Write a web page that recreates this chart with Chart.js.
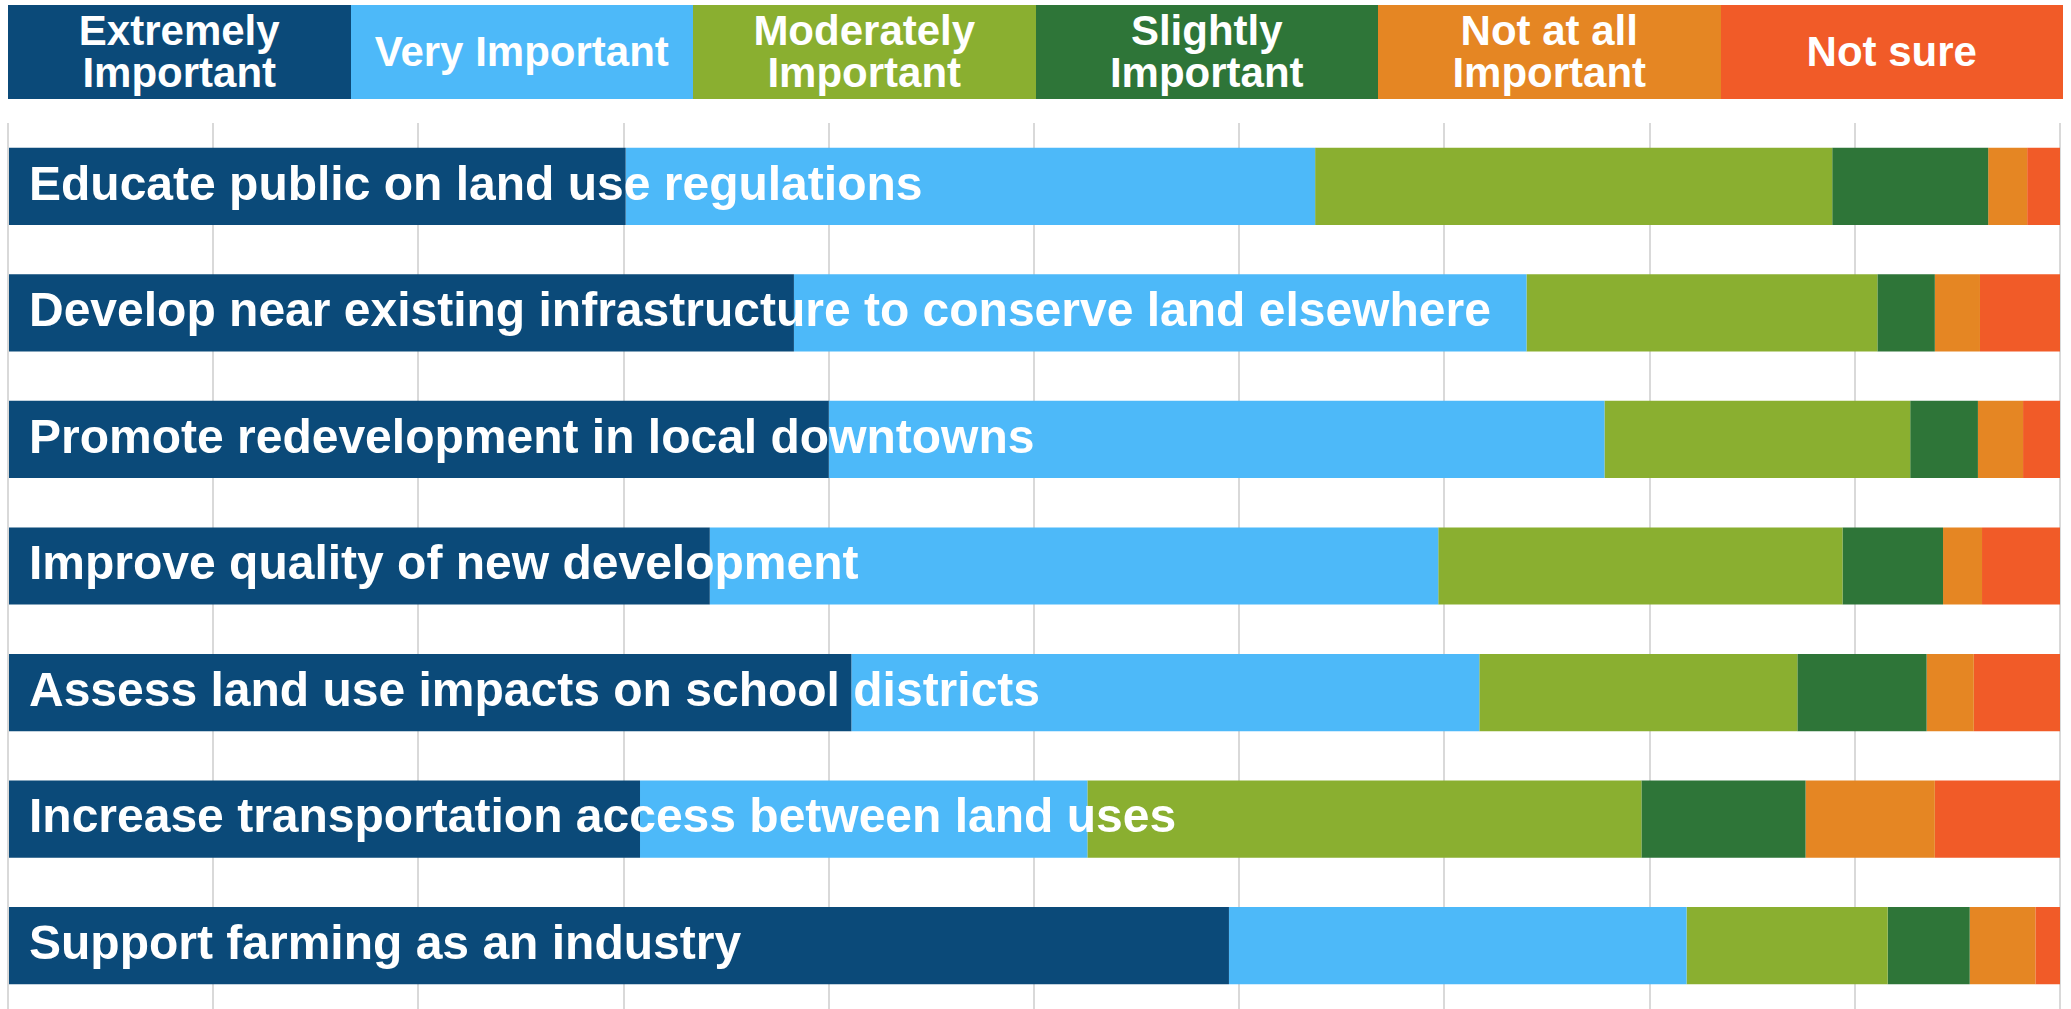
<!DOCTYPE html>
<html>
<head>
<meta charset="utf-8">
<title>Land use priorities</title>
<script src="https://cdn.jsdelivr.net/npm/chart.js@4"></script>
<style>
  html, body { margin: 0; padding: 0; background: #fff; }
  #wrap { position: relative; width: 2071px; height: 1009px; overflow: hidden; }
  #legend {
    position: absolute; left: 8px; top: 5px; width: 2055px; height: 94px;
    display: flex;
  }
  .leg-item {
    flex: 1 1 0; display: flex; align-items: center; justify-content: center;
    color: #fff; font-family: "Liberation Sans", Arial, sans-serif; font-weight: bold;
    font-size: 42px; line-height: 42px; text-align: center;
  }
  #chart { position: absolute; left: 0; top: 0; }
</style>
</head>
<body>
<div id="wrap">
  <canvas id="chart" width="2071" height="1009"></canvas>
  <div id="legend"></div>
</div>
<script>
// ─── Data ───────────────────────────────────────────────────────────────────

const categories = [
  'Educate public on land use regulations',
  'Develop near existing infrastructure to conserve land elsewhere',
  'Promote redevelopment in local downtowns',
  'Improve quality of new development',
  'Assess land use impacts on school districts',
  'Increase transportation access between land uses',
  'Support farming as an industry',
];

const seriesNames = [
  'Extremely Important',
  'Very Important',
  'Moderately Important',
  'Slightly Important',
  'Not at all Important',
  'Not sure',
];

// legend text split into lines as shown in the header boxes
const legendLines = [
  ['Extremely', 'Important'],
  ['Very Important'],
  ['Moderately', 'Important'],
  ['Slightly', 'Important'],
  ['Not at all', 'Important'],
  ['Not sure'],
];

const extremely  = [30.1, 38.3, 40.0, 34.2, 41.1, 30.8, 59.5];
const very       = [33.6, 35.7, 37.8, 35.5, 30.6, 21.8, 22.3];
const moderately = [25.2, 17.1, 14.9, 19.7, 15.5, 27.0,  9.8];
const slightly   = [ 7.6,  2.8,  3.3,  4.9,  6.3,  8.0,  4.0];
const notAtAll   = [ 1.9,  2.2,  2.2,  1.9,  2.3,  6.3,  3.2];
const notSure    = [ 1.6,  3.9,  1.8,  3.8,  4.2,  6.1,  1.2];

const seriesColors = ['#0b4a79', '#4db9f9', '#8aaf30', '#2e7538', '#e58623', '#f15b28'];

// ─── Legend (header boxes) ──────────────────────────────────────────────────

function renderLegend() {
  const el = document.getElementById('legend');
  el.innerHTML = seriesNames.map((name, i) => `
    <div class="leg-item" style="background:${seriesColors[i]};" title="${name}">
      <div>${legendLines[i].join('<br>')}</div>
    </div>`).join('');
}

// ─── Stacked horizontal bar chart ──────────────────────────────────────────

function renderChart() {
  const ctx = document.getElementById('chart');
  const values = [extremely, very, moderately, slightly, notAtAll, notSure];

  new Chart(ctx, {
    type: 'bar',
    data: {
      labels: categories,
      datasets: values.map((v, i) => ({
        label: seriesNames[i],
        data: v,
        backgroundColor: seriesColors[i],
        borderWidth: 0,
        categoryPercentage: 1,
        barPercentage: 0.61,
      })),
    },
    options: {
      indexAxis: 'y',
      responsive: false,
      animation: false,
      layout: { padding: { top: 123, left: 8, right: 11, bottom: 0 } },
      plugins: {
        legend: { display: false },
        tooltip: { enabled: false },
      },
      scales: {
        x: {
          stacked: true,
          min: 0,
          max: 100,
          ticks: { display: false, stepSize: 10 },
          grid: { color: '#d9d9d9', lineWidth: 2, drawTicks: false },
          border: { display: false },
          afterFit: s => { s.height = 0; },
        },
        y: {
          stacked: true,
          grid: { display: false, drawTicks: false },
          border: { display: false },
          // labels sit inside the bars, so the axis takes no room of its own
          afterFit: s => { s.width = 0; s.paddingTop = 0; s.paddingBottom = 0; },
          ticks: {
            mirror: true,
            z: 1,
            padding: 21,
            autoSkip: false,
            color: '#ffffff',
            font: { family: '"Liberation Sans", Arial, sans-serif', size: 48, weight: 'bold' },
          },
        },
      },
    },
  });
}

renderLegend();
renderChart();
</script>
</body>
</html>
